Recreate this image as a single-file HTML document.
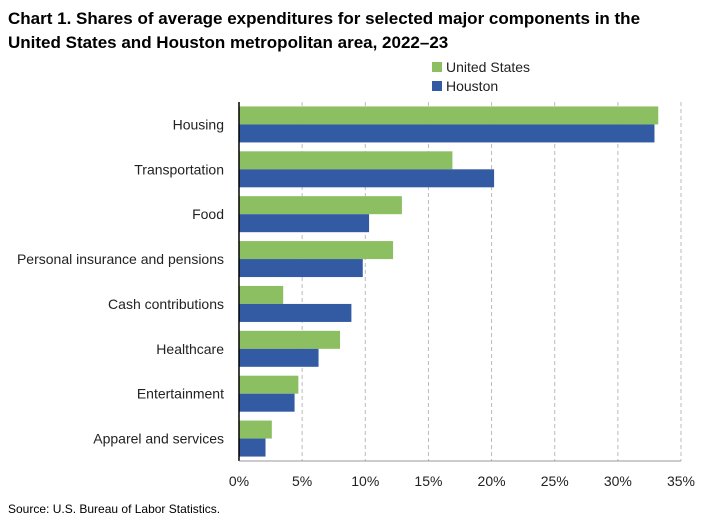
<!DOCTYPE html>
<html><head><meta charset="utf-8"><style>
body{margin:0;background:#fff;font-family:"Liberation Sans",Arial,sans-serif}
svg text{font-family:"Liberation Sans",Arial,sans-serif}
</style></head><body>
<svg id="chart" width="707" height="523">
<text x="8" y="24" font-size="17" font-weight="bold" fill="#000">Chart 1. Shares of average expenditures for selected major components in the</text>
<text x="8" y="48" font-size="17" font-weight="bold" fill="#000">United States and Houston metropolitan area, 2022–23</text>
<g>
<rect x="432" y="62" width="10" height="10" fill="#8BBF62"/>
<text x="446" y="72" font-size="14" fill="#222">United States</text>
<rect x="432" y="81" width="10" height="10" fill="#335BA3"/>
<text x="446" y="91" font-size="14" fill="#222">Houston</text>
</g>
<g id="plot"></g>
<text x="8" y="513" font-size="12" fill="#000">Source: U.S. Bureau of Labor Statistics.</text>
</svg>
<script>
const categories=["Housing","Transportation","Food","Personal insurance and pensions","Cash contributions","Healthcare","Entertainment","Apparel and services"];
const usValues=[33.2,16.9,12.9,12.2,3.5,8.0,4.7,2.6];
const houstonValues=[32.9,20.2,10.3,9.8,8.9,6.3,4.4,2.1];
const tickValues=[0,5,10,15,20,25,30,35];
const tickLabels=["0%","5%","10%","15%","20%","25%","30%","35%"];
const X0=239,X1=681,Y0=102,Y1=461,MAX=35;
const xs=v=>X0+(X1-X0)*v/MAX;
const band=(Y1-Y0)/categories.length;
const g=document.getElementById('plot');
const NS='http://www.w3.org/2000/svg';
function mk(t,a){const e=document.createElementNS(NS,t);for(const k in a)e.setAttribute(k,a[k]);g.appendChild(e);return e;}
tickValues.forEach((v,i)=>{
 if(v>0){const l=mk('line',{x1:xs(v),x2:xs(v),y1:Y0,y2:Y1,stroke:'#bbb','stroke-dasharray':'4,3'});
 
 }
 const t=mk('text',{x:xs(v),y:Y1+25,'font-size':14,'text-anchor':'middle',fill:'#222'});
 t.textContent=tickLabels[i];
 
 
});
categories.forEach((c,i)=>{
 const top=Y0+i*band, mid=top+band/2;
 const r1=mk('rect',{x:X0,y:mid-18,width:xs(usValues[i])-X0,height:18,fill:'#8BBF62'});
 
 
 const r2=mk('rect',{x:X0,y:mid,width:xs(houstonValues[i])-X0,height:18,fill:'#335BA3'});
 
 
 const t=mk('text',{x:224,y:mid+5,'font-size':14,'text-anchor':'end',fill:'#222'});
 t.textContent=c;
 
 
});
const ax=mk('line',{x1:X0,x2:X0,y1:Y0,y2:Y1,stroke:'#000','stroke-width':1.5});


const bx=mk('line',{x1:X0,x2:X1,y1:Y1,y2:Y1,stroke:'#999'});


</script>
</body></html>
